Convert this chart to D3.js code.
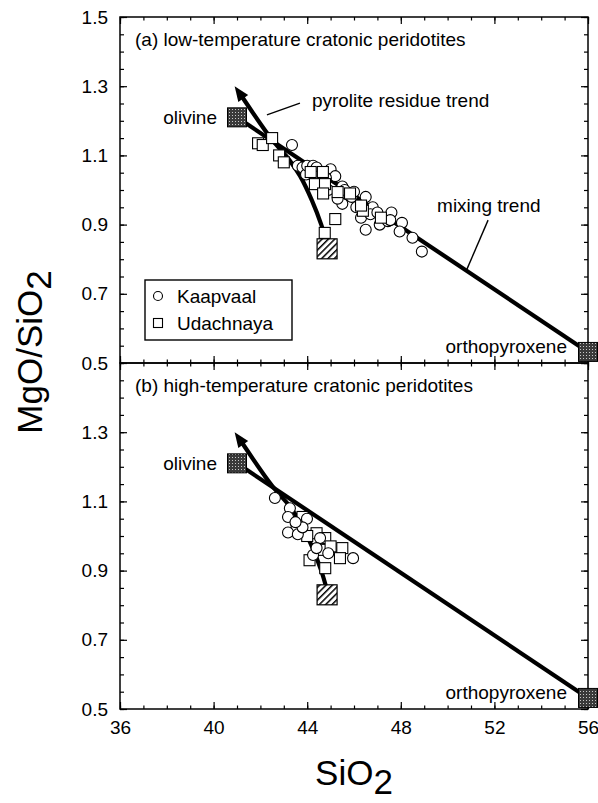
<!DOCTYPE html>
<html>
<head>
<meta charset="utf-8">
<script src="https://cdn.jsdelivr.net/npm/d3@7"></script>
<style>
  body { margin: 0; background: #fff; }
  text { font-family: "Liberation Sans", Arial, Helvetica, sans-serif; }
</style>
</head>
<body>
<div id="chart"></div>
<script>
// ---- data (SiO2, MgO/SiO2) ----
var panelTitles = ['(a) low-temperature cratonic peridotites', '(b) high-temperature cratonic peridotites'];

var olivine = [41.0, 1.21];
var orthopyroxene = [56.0, 0.532];
var pyroliteResidue = [44.85, 0.83];

// pyrolite residue trend, from the residue end to the arrow tip
var pyroliteTrend = [[44.82, 0.85], [44.6, 0.90], [44.2, 0.97], [43.7, 1.04], [43.2, 1.09], [42.5, 1.145], [40.9, 1.30]];

var kaapvaalLowT = [
  [43.35, 1.13], [43.6, 1.07], [43.8, 1.065], [43.95, 1.045], [44.0, 1.07], [44.25, 1.07],
  [44.4, 1.065], [44.5, 1.04], [44.6, 1.02], [44.9, 1.0], [45.0, 1.06], [45.2, 1.04],
  [45.5, 1.01], [45.6, 1.0], [45.5, 0.96], [45.9, 0.98], [46.0, 0.995], [46.1, 0.95],
  [46.5, 0.98], [46.8, 0.95], [46.5, 0.885], [46.3, 0.92], [47.1, 0.90], [47.45, 0.91],
  [47.6, 0.935], [47.55, 0.913], [48.05, 0.905], [47.95, 0.88], [48.5, 0.862], [48.9, 0.822],
  [46.7, 0.93], [47.0, 0.935], [44.8, 1.035], [45.3, 0.975]
];
var udachnayaLowT = [
  [41.9, 1.135], [42.1, 1.13], [42.5, 1.15], [42.8, 1.10], [43.0, 1.08], [44.15, 1.052],
  [44.67, 1.052], [44.33, 1.017], [44.76, 1.017], [44.68, 0.99], [45.3, 0.994], [45.83, 0.99],
  [46.38, 0.94], [47.15, 0.92], [45.2, 0.916], [44.75, 0.876], [46.3, 0.955]
];
var kaapvaalHighT = [
  [42.62, 1.11], [43.26, 1.08], [43.18, 1.055], [43.99, 1.05], [43.18, 1.01], [43.6, 1.005],
  [43.8, 1.025], [44.55, 0.994], [44.25, 0.945], [44.9, 0.95], [45.96, 0.936], [43.5, 1.04],
  [44.4, 0.965]
];
var udachnayaHighT = [
  [43.8, 1.055], [43.55, 1.03], [44.4, 1.008], [44.77, 0.994], [45.5, 0.965], [44.1, 0.93],
  [44.77, 0.907], [45.4, 0.936], [44.6, 0.96], [45.0, 0.97], [44.0, 1.0]
];

var xMajor = [36, 40, 44, 48, 52, 56];
var xMinor = d3.range(36, 57);
var yMajorA = [0.5, 0.7, 0.9, 1.1, 1.3, 1.5];
var yMajorB = [0.5, 0.7, 0.9, 1.1, 1.3];
var yMinor = d3.range(10, 31).map(function(d){ return d / 20; });

// annotation anchors (data coords)
var pyroliteLeader = [[42.28, 1.217], [43.69, 1.251]];
var pyroliteLabel = [44.2, 1.24];
var mixingLeader = [[51.73, 0.913], [50.8, 0.767]];
var mixingLabel = [49.55, 0.936];

// ---- layout ----
var W = 598, H = 803;
var left = 120, right = 588, panelTops = [17, 363], panelH = 346;
var fs = 19;

var x = d3.scaleLinear().domain([36, 56]).range([left, right]);

var svg = d3.select('#chart').append('svg')
  .attr('width', W)
  .attr('height', H);

var defs = svg.append('defs');
var stip = defs.append('pattern')
  .attr('id', 'stipple')
  .attr('patternUnits', 'userSpaceOnUse')
  .attr('width', 3).attr('height', 3);
stip.append('rect').attr('width', 3).attr('height', 3).attr('fill', '#3a3a3a');
stip.append('rect').attr('x', 1).attr('y', 1).attr('width', 1).attr('height', 1).attr('fill', '#c8c8c8');

var hatch = defs.append('pattern')
  .attr('id', 'hatch')
  .attr('patternUnits', 'userSpaceOnUse')
  .attr('width', 4.5).attr('height', 4.5)
  .attr('patternTransform', 'rotate(45)');
hatch.append('rect').attr('width', 4.5).attr('height', 4.5).attr('fill', '#fff');
hatch.append('line').attr('x1', 0).attr('y1', 0).attr('x2', 0).attr('y2', 4.5)
  .attr('stroke', '#000').attr('stroke-width', 3);

function drawAxis(g, axis, tr, values, size, fmt) {
  var a = axis.tickValues(values).tickSize(-size).tickPadding(12)
    .tickFormat(fmt || function(){ return ''; });
  var s = g.append('g').attr('transform', tr).call(a);
  s.select('.domain').remove();
  s.selectAll('line').attr('stroke', '#000').attr('stroke-width', 1.2);
  s.selectAll('text')
    .attr('fill', '#000')
    .style('font-size', fs + 'px')
    .style('font-family', '"Liberation Sans", Arial, sans-serif');
  return s;
}

panelTitles.forEach(function(title, i) {
  var y = d3.scaleLinear().domain([0.5, 1.5]).range([panelTops[i] + panelH, panelTops[i]]);
  var g = svg.append('g').classed('panel', true);
  var kaap = i === 0 ? kaapvaalLowT : kaapvaalHighT;
  var udach = i === 0 ? udachnayaLowT : udachnayaHighT;

  // frame
  g.append('rect')
    .attr('x', x(36)).attr('y', y(1.5))
    .attr('width', x(56) - x(36)).attr('height', y(0.5) - y(1.5))
    .attr('fill', 'none').attr('stroke', '#000').attr('stroke-width', 1.5);

  // ticks, inward on every side
  drawAxis(g, d3.axisBottom(x), 'translate(0,' + y(0.5) + ')', xMinor, 3.5);
  drawAxis(g, d3.axisBottom(x), 'translate(0,' + y(0.5) + ')', xMajor, 7,
    i === 1 ? d3.format('d') : null);
  drawAxis(g, d3.axisTop(x), 'translate(0,' + y(1.5) + ')', xMinor, 3.5);
  drawAxis(g, d3.axisTop(x), 'translate(0,' + y(1.5) + ')', xMajor, 7);
  drawAxis(g, d3.axisLeft(y), 'translate(' + x(36) + ',0)', yMinor, 4);
  drawAxis(g, d3.axisLeft(y), 'translate(' + x(36) + ',0)', i === 0 ? yMajorA : yMajorB, 7, d3.format('.1f'));
  drawAxis(g, d3.axisRight(y), 'translate(' + x(56) + ',0)', yMinor, 4);
  drawAxis(g, d3.axisRight(y), 'translate(' + x(56) + ',0)', yMajorA, 7);

  // panel title
  g.append('text')
    .attr('x', x(36) + 15)
    .attr('y', y(1.5) + 29)
    .style('font-size', fs + 'px')
    .text(title);

  // mixing trend
  g.append('line')
    .attr('x1', x(olivine[0])).attr('y1', y(olivine[1]))
    .attr('x2', x(orthopyroxene[0])).attr('y2', y(orthopyroxene[1]))
    .attr('stroke', '#000').attr('stroke-width', 4.2);

  // pyrolite residue trend + arrow head
  var pts = pyroliteTrend.map(function(d){ return [x(d[0]), y(d[1])]; });
  var tip = pts[pts.length - 1], prev = pts[pts.length - 2];
  var ang = Math.atan2(tip[1] - prev[1], tip[0] - prev[0]);
  var headLen = 15, headW = 6;
  var base = [tip[0] - headLen * Math.cos(ang), tip[1] - headLen * Math.sin(ang)];
  var linePts = pts.slice(0, -1).concat([[tip[0] - (headLen - 3) * Math.cos(ang), tip[1] - (headLen - 3) * Math.sin(ang)]]);
  g.append('path')
    .attr('d', d3.line().curve(d3.curveCatmullRom.alpha(0.5))(linePts))
    .attr('fill', 'none').attr('stroke', '#000').attr('stroke-width', 4.2);
  g.append('path')
    .attr('d', 'M' + tip[0] + ',' + tip[1] +
      'L' + (base[0] + headW * Math.sin(ang)) + ',' + (base[1] - headW * Math.cos(ang)) +
      'L' + (base[0] - headW * Math.sin(ang)) + ',' + (base[1] + headW * Math.cos(ang)) + 'Z')
    .attr('fill', '#000');

  var order = i === 0 ? ['c', 's'] : ['s', 'c'];
  order.forEach(function(k) {
    if (k === 'c') {
      g.selectAll('circle.kaap').data(kaap).enter()
        .append('circle').classed('kaap', true)
        .attr('cx', function(d){ return x(d[0]); })
        .attr('cy', function(d){ return y(d[1]); })
        .attr('r', 5.5)
        .attr('fill', '#fff').attr('stroke', '#000').attr('stroke-width', 1.1);
    } else {
      g.selectAll('rect.udach').data(udach).enter()
        .append('rect').classed('udach', true)
        .attr('x', function(d){ return x(d[0]) - 5.5; })
        .attr('y', function(d){ return y(d[1]) - 5.5; })
        .attr('width', 11).attr('height', 11)
        .attr('fill', '#fff').attr('stroke', '#000').attr('stroke-width', 1.1);
    }
  });

  // end members
  [olivine, orthopyroxene].forEach(function(d) {
    g.append('rect')
      .attr('x', x(d[0]) - 9.5).attr('y', y(d[1]) - 9.5)
      .attr('width', 19).attr('height', 19)
      .attr('fill', 'url(#stipple)').attr('stroke', '#000').attr('stroke-width', 1);
  });
  g.append('rect')
    .attr('x', x(pyroliteResidue[0]) - 10).attr('y', y(pyroliteResidue[1]) - 10)
    .attr('width', 20).attr('height', 20)
    .attr('fill', 'url(#hatch)').attr('stroke', '#000').attr('stroke-width', 1.2);

  g.append('text')
    .attr('x', x(olivine[0]) - 20).attr('y', y(olivine[1]) + 7)
    .attr('text-anchor', 'end')
    .style('font-size', fs + 'px')
    .text('olivine');
  g.append('text')
    .attr('x', x(orthopyroxene[0]) - 21).attr('y', y(orthopyroxene[1]) + 1)
    .attr('text-anchor', 'end')
    .style('font-size', fs + 'px')
    .text('orthopyroxene');

  if (i === 0) {
    g.append('line')
      .attr('x1', x(pyroliteLeader[0][0])).attr('y1', y(pyroliteLeader[0][1]))
      .attr('x2', x(pyroliteLeader[1][0])).attr('y2', y(pyroliteLeader[1][1]))
      .attr('stroke', '#000').attr('stroke-width', 1.4);
    g.append('text')
      .attr('x', x(pyroliteLabel[0])).attr('y', y(pyroliteLabel[1]))
      .style('font-size', fs + 'px')
      .text('pyrolite residue trend');
    g.append('line')
      .attr('x1', x(mixingLeader[0][0])).attr('y1', y(mixingLeader[0][1]))
      .attr('x2', x(mixingLeader[1][0])).attr('y2', y(mixingLeader[1][1]))
      .attr('stroke', '#000').attr('stroke-width', 1.4);
    g.append('text')
      .attr('x', x(mixingLabel[0])).attr('y', y(mixingLabel[1]))
      .style('font-size', fs + 'px')
      .text('mixing trend');

    // legend
    var lg = g.append('g').attr('transform', 'translate(145,280)');
    lg.append('rect').attr('width', 147).attr('height', 60)
      .attr('fill', '#fff').attr('stroke', '#000').attr('stroke-width', 1.4);
    lg.append('circle').attr('cx', 13).attr('cy', 16).attr('r', 4.5)
      .attr('fill', '#fff').attr('stroke', '#000').attr('stroke-width', 1.1);
    lg.append('rect').attr('x', 8.5).attr('y', 38.5).attr('width', 9).attr('height', 9)
      .attr('fill', '#fff').attr('stroke', '#000').attr('stroke-width', 1.1);
    lg.append('text').attr('x', 32).attr('y', 23).style('font-size', fs + 'px').text('Kaapvaal');
    lg.append('text').attr('x', 32).attr('y', 50).style('font-size', fs + 'px').text('Udachnaya');
  }
});

// axis titles
var xt = svg.append('text')
  .attr('x', (left + right) / 2)
  .attr('y', 785)
  .attr('text-anchor', 'middle')
  .style('font-size', '35px');
xt.append('tspan').text('SiO');
xt.append('tspan').attr('dy', 9).text('2');

var yt = svg.append('text')
  .attr('transform', 'translate(42,352) rotate(-90)')
  .attr('text-anchor', 'middle')
  .style('font-size', '35px');
yt.append('tspan').text('MgO/SiO');
yt.append('tspan').attr('dy', 9).text('2');
</script>
</body>
</html>
